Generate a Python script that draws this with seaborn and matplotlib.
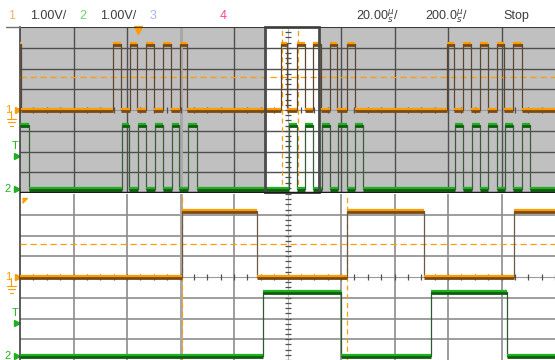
import matplotlib
matplotlib.use("Agg")
import numpy as np
import pandas as pd
import matplotlib.pyplot as plt
import seaborn as sns

# header of the scope screen
ch_names = ["1", "2", "3", "4"]
ch_scales = ["1.00V/", "1.00V/"]
time_scales = ["20.00", "200.0"]
run_state = "Stop"

# main timebase: 200 us/div (0..2000 us), zoom timebase: 20 us/div (0..200 us)
main_span = 2000
zoom_span = 200
zoom_start = 917  # start of zoom window inside the main record (us)

# levels (volts) and channel offsets (divisions, 1 V/div)
ch1_low, ch1_high = 0.0, 3.2
ch2_low, ch2_high = 0.0, 3.1
ch1_offset = 0.0
ch2_offset = -3.8
trig_level = 1.6

# edge times (us), each edge toggles the level
ch1_main_start = "high"
ch1_main_edges = [3, 349, 378, 411, 439, 471, 501, 536, 563, 598, 625,
                  975, 998, 1036, 1065, 1095, 1125, 1159, 1186, 1222, 1252,
                  1595, 1622, 1657, 1685, 1720, 1751, 1782, 1810, 1844, 1876]
ch2_main_start = "high"
ch2_main_edges = [34, 380, 409, 442, 471, 505, 533, 567, 596, 629, 661,
                  1007, 1034, 1065, 1096, 1128, 1159, 1190, 1221, 1252, 1283,
                  1626, 1657, 1689, 1720, 1751, 1782, 1813, 1844, 1876, 1907]

ch1_zoom_start = "low"
ch1_zoom_edges = [60.4, 88.5, 122.4, 151.0, 184.7]
ch2_zoom_start = "low"
ch2_zoom_edges = [91.0, 119.9, 153.5, 182.2]

# cursors (zoom time, us)
cursors = [60.6, 122.3]
trig_pos_div = 3.0

ORANGE = "#ff9c00"
ORANGE_DK = "#7a4a10"
GREEN = "#1fb01f"
GREEN_DK = "#0d5e0d"
FONT = ["Liberation Sans", "DejaVu Sans"]


def steps(edges, start, low, high, offset, end):
    t = [0.0] + list(edges) + [end]
    lvl = start == "high"
    vals = []
    for i in range(len(t)):
        if 0 < i < len(t) - 1:
            lvl = not lvl
        vals.append((high if lvl else low) + offset)
    return pd.DataFrame({"t": t, "v": vals})


def draw_trace(ax, df, bright, dark, edge_col):
    sns.lineplot(data=df, x="t", y="v", ax=ax, drawstyle="steps-post",
                 estimator=None, sort=False, color=edge_col, lw=0.9,
                 zorder=4, legend=False)
    t = df["t"].to_numpy()
    v = df["v"].to_numpy()
    ax.hlines(v[:-1] - 0.05, t[:-1], t[1:], color=dark, lw=2.0, zorder=5)
    ax.hlines(v[:-1] + 0.03, t[:-1], t[1:], color=bright, lw=1.6, zorder=6)


def setup(ax, span, bg, grid_col, grid_lw):
    ax.set_facecolor(bg)
    ax.set_xlim(0, span)
    ax.set_ylim(-4, 4)
    xt = [span / 10 * k for k in range(1, 10) if k != 5]
    ax.set_xticks(xt)
    ax.set_yticks([-3, -2, -1, 1, 2, 3])
    ax.grid(True, color=grid_col, lw=grid_lw)
    ax.set_axisbelow(True)
    ax.tick_params(length=0, labelbottom=False, labelleft=False)
    ax.set_xlabel("")
    ax.set_ylabel("")
    # center axes with minor ticks
    ax.axvline(span / 2, color="#b5b5b5", lw=0.8, zorder=1)
    ax.axhline(0, color="#9a9a9a", lw=0.8, zorder=1)
    ys = np.arange(-4, 4.01, 0.25)
    ax.plot([span / 2] * len(ys), ys, ls="none", marker="_", ms=4,
            mew=0.9, color="#505050", zorder=2)
    xs = np.arange(0, span + 1, span / 40)
    ax.plot(xs, [0] * len(xs), ls="none", marker="|", ms=4, mew=0.9,
            color="#505050", zorder=2)
    # trigger-level line
    ax.axhline(trig_level + ch1_offset, color=ORANGE, lw=0.9,
               dashes=(5, 3), zorder=3)
    ax.axvline(span / 10 * trig_pos_div, color="#a8a8a8", lw=2, zorder=1.5)
    for s in ["left", "right", "top", "bottom"]:
        ax.spines[s].set_visible(False)
    ax.spines["left"].set_visible(True)
    ax.spines["left"].set_color("#404040")
    ax.spines["left"].set_linewidth(1.2)


def channel_marks(ax):
    tr = ax.get_yaxis_transform()
    ax.text(-0.022, ch1_offset, "1", transform=tr, color=ORANGE,
            fontsize=8, ha="center", va="center", family=FONT, clip_on=False)
    ax.plot([-0.004], [ch1_offset], transform=tr, marker=">", ms=4,
            color=ORANGE, clip_on=False)
    ax.plot([-0.016, -0.016], [ch1_offset - 0.05, ch1_offset - 0.45],
            transform=tr, color=ORANGE, lw=0.8, clip_on=False)
    for w, dy in [(0.009, 0.45), (0.006, 0.6), (0.003, 0.75)]:
        ax.plot([-0.016 - w, -0.016 + w], [ch1_offset - dy] * 2,
                transform=tr, color=ORANGE, lw=0.8, clip_on=False)
    ax.text(-0.01, ch2_offset + trig_level + 0.45, "T", transform=tr,
            color=GREEN, fontsize=8, ha="center", va="center", family=FONT,
            clip_on=False)
    ax.plot([-0.005], [ch2_offset + trig_level], transform=tr, marker=">",
            ms=5, color=GREEN, clip_on=False)
    ax.text(-0.024, ch2_offset, "2", transform=tr, color=GREEN,
            fontsize=8, ha="center", va="center", family=FONT, clip_on=False)
    ax.plot([-0.005], [ch2_offset], transform=tr, marker=">", ms=4,
            color=GREEN, clip_on=False)


sns.set_style("white")
plt.rcParams["font.family"] = FONT

fig = plt.figure(figsize=(5.55, 3.6), dpi=100)
ax_top = fig.add_axes([20 / 555, 1 - 193 / 360, 535 / 555, 166 / 360])
ax_bot = fig.add_axes([20 / 555, 0, 535 / 555, 166 / 360])

# ---------- main (zoomed-out) view ----------
setup(ax_top, main_span, "#c0c0c0", "#4e4e4e", 1.0)
ax_top.axvspan(zoom_start, zoom_start + zoom_span, color="white", zorder=0.2)
ax_top.add_patch(plt.Rectangle((zoom_start, -4), zoom_span, 8, fill=False,
                               ec="#4a4a4a", lw=2, zorder=7, clip_on=False))
for c in cursors:
    ax_top.axvline(zoom_start + c, color=ORANGE, lw=0.9, dashes=(4, 3),
                   zorder=3)

df1 = steps(ch1_main_edges, ch1_main_start, ch1_low, ch1_high, ch1_offset, main_span)
df2 = steps(ch2_main_edges, ch2_main_start, ch2_low, ch2_high, ch2_offset, main_span)
draw_trace(ax_top, df1, ORANGE, ORANGE_DK, "#5c4630")
draw_trace(ax_top, df2, GREEN, GREEN_DK, "#3c5a3c")
ax_top.plot([441], [3.85], marker="v", ms=6, color=ORANGE, clip_on=False,
            zorder=8)
ax_top.axhline(4, color="#3a3a3a", lw=1.5, zorder=8)
ax_top.axhline(-4, color="#1a1a1a", lw=2.5, zorder=8)
channel_marks(ax_top)

# ---------- zoom view ----------
setup(ax_bot, zoom_span, "white", "#8c8c8c", 1.2)
for c in cursors:
    ax_bot.axvline(c, color=ORANGE, lw=0.9, dashes=(4, 3), zorder=3)
dz1 = steps(ch1_zoom_edges, ch1_zoom_start, ch1_low, ch1_high, ch1_offset, zoom_span)
dz2 = steps(ch2_zoom_edges, ch2_zoom_start, ch2_low, ch2_high, ch2_offset, zoom_span)
draw_trace(ax_bot, dz1, ORANGE, ORANGE_DK, "#6a5a48")
draw_trace(ax_bot, dz2, GREEN, GREEN_DK, "#2f5a2f")
ax_bot.plot([0.9], [3.8], marker=[(0, 0), (1, 0), (0, -1)], ms=7,
            color=ORANGE, clip_on=False, zorder=8)
channel_marks(ax_bot)

# ---------- header ----------
fig.add_artist(plt.Line2D([6 / 555, 20 / 555], [1 - 26.5 / 360] * 2,
                          color="#707070", lw=1))
hy = 1 - 16 / 360
hdr = dict(fontsize=9, va="center", color="#3c3c3c", family=FONT)
fig.text(12 / 555, hy, ch_names[0], ha="center", **{**hdr, "color": "#f5b070"})
fig.text(30 / 555, hy, ch_scales[0], ha="left", **hdr)
fig.text(82.5 / 555, hy, ch_names[1], ha="center", **{**hdr, "color": "#6cd06c"})
fig.text(100 / 555, hy, ch_scales[1], ha="left", **hdr)
fig.text(152.5 / 555, hy, ch_names[2], ha="center", **{**hdr, "color": "#a8b4f0"})
fig.text(223 / 555, hy, ch_names[3], ha="center", **{**hdr, "color": "#ff3fa0"})
fig.text(356 / 555, hy, time_scales[0] + r"$^{\mu}_{s}$/", ha="left", **hdr)
fig.text(425 / 555, hy, time_scales[1] + r"$^{\mu}_{s}$/", ha="left", **hdr)
fig.text(503 / 555, hy, run_state, ha="left", **hdr)

fig.savefig("out.png", dpi=100)
